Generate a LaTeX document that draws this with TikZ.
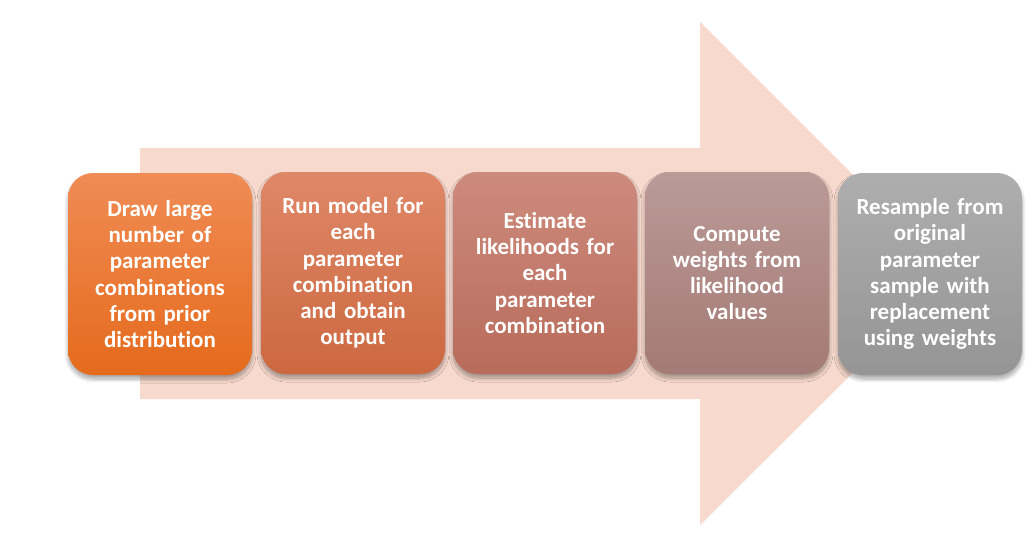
\documentclass[tikz,border=0pt]{standalone}
\usepackage{fontspec}
\setmainfont{Carlito}[RawFeature={-liga;-clig;-dlig}]
\usetikzlibrary{shadows.blur}
\definecolor{arrowcol}{HTML}{F7D9CE}
\definecolor{aT}{HTML}{F08C55}\definecolor{aB}{HTML}{E56A1C}
\definecolor{bT}{HTML}{DF8868}\definecolor{bB}{HTML}{CC6840}
\definecolor{cT}{HTML}{CD8B7D}\definecolor{cB}{HTML}{B86B5A}
\definecolor{dT}{HTML}{BB9A97}\definecolor{dB}{HTML}{A47A75}
\definecolor{eT}{HTML}{AEAEAE}\definecolor{eB}{HTML}{959595}
\tikzset{
  stepbox/.style={rounded corners=25pt, minimum width=184pt, minimum height=202pt,
    text width=176pt, align=center, text=white, inner sep=0pt,
    font=\fontsize{23}{26.2}\selectfont\bfseries,
    blur shadow={shadow xshift=0pt, shadow yshift=-4pt, shadow blur steps=8, shadow blur extra rounding=3pt, shadow blur radius=4pt, shadow opacity=35}},
  boxA/.style={stepbox, top color=aT, bottom color=aB},
  boxB/.style={stepbox, top color=bT, bottom color=bB},
  boxC/.style={stepbox, top color=cT, bottom color=cB},
  boxD/.style={stepbox, top color=dT, bottom color=dB},
  boxE/.style={stepbox, top color=eT, bottom color=eB},
}
\begin{document}
\begin{tikzpicture}[x=1pt,y=-1pt]
\useasboundingbox (0,0) rectangle (1032,555);
\fill[arrowcol] (140,148) -- (700,148) -- (700,22) -- (952,274) -- (700,525) -- (700,399) -- (140,399) -- cycle;
\node[boxA] (s1) at (160,274) {Draw large\\number of\\parameter\\combinations\\from prior\\distribution};
\node[boxB] (s2) at (353,273) {Run model for\\each\\parameter\\combination\\and obtain\\output};
\node[boxC] (s3) at (545,273) {Estimate\\likelihoods for\\each\\parameter\\combination};
\node[boxD] (s4) at (737,273) {Compute\\weights from\\likelihood\\values};
\node[boxE] (s5) at (930,274) {Resample from\\original\\parameter\\sample with\\replacement\\using weights};
\end{tikzpicture}
\end{document}
